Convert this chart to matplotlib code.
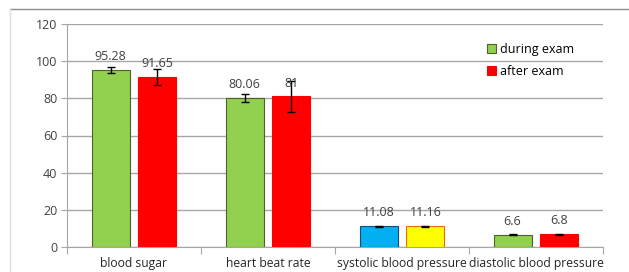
import matplotlib
matplotlib.use("Agg")
import matplotlib.pyplot as plt
from matplotlib.lines import Line2D
from matplotlib.patches import Patch
import numpy as np

plt.rcParams['font.family'] = ['Open Sans', 'DejaVu Sans']

categories = ["blood sugar", "heart beat rate", "systolic blood pressure", "diastolic blood pressure"]
during = [95.28, 80.06, 11.08, 6.6]
after = [91.65, 81, 11.16, 6.8]
during_err = [1.8, 2.1, 0.3, 0.3]
after_err = [4.4, 8.3, 0.3, 0.3]
during_labels = ["95.28", "80.06", "11.08", "6.6"]
after_labels = ["91.65", "81", "11.16", "6.8"]
yticks = [0, 20, 40, 60, 80, 100, 120]

during_colors = ["#92D050", "#92D050", "#00B0F0", "#92D050"]
after_colors = ["#FF0000", "#FF0000", "#FFFF00", "#FF0000"]
during_edges = ["#4F6228", "#4F6228", "#1F497D", "#4F6228"]
after_edges = ["#FF0000", "#FF0000", "#E46C0A", "#FF0000"]

fig = plt.figure(figsize=(6.29, 2.72), dpi=100)
ax = fig.add_axes([67/629, 1-247/272, (603-67)/629, (247-24)/272])

x = np.arange(len(categories)) + 0.5
w = 0.284
off = 0.175
ax.bar(x - off, during, w, color=during_colors, edgecolor=during_edges, linewidth=0.8, zorder=3)
ax.bar(x + off, after, w, color=after_colors, edgecolor=after_edges, linewidth=0.8, zorder=3)
ax.errorbar(x - off, during, yerr=during_err, fmt='none', ecolor='black', elinewidth=1, capsize=3, capthick=1, zorder=4)
ax.errorbar(x + off, after, yerr=after_err, fmt='none', ecolor='black', elinewidth=1, capsize=3, capthick=1, zorder=4)

for xi, v, t in zip(x - off, during, during_labels):
    ax.annotate(t, (xi, v), xytext=(0, 5), textcoords='offset points', ha='center', va='bottom', fontsize=9, color='#404040', zorder=5)
for xi, v, t in zip(x + off, after, after_labels):
    ax.annotate(t, (xi, v), xytext=(0, 5), textcoords='offset points', ha='center', va='bottom', fontsize=9, color='#404040', zorder=5)

ax.set_xlim(0, len(categories))
ax.set_ylim(0, 120)
ax.set_yticks(yticks)
ax.set_yticklabels([str(t) for t in yticks], fontsize=9, color='#404040')
ax.yaxis.grid(True, color='#A6A6A6', linewidth=1, zorder=0)
ax.set_axisbelow(True)

ax.set_xticks(np.arange(len(categories) + 1))
ax.set_xticklabels([])
ax.set_xticks(x, minor=True)
ax.set_xticklabels(categories, minor=True, fontsize=8.7, color='#262626')
ax.tick_params(axis='x', which='minor', length=0, pad=7)
ax.tick_params(axis='x', which='major', length=5, color='#A6A6A6')
ax.tick_params(axis='y', length=4, color='#A6A6A6', pad=3)

for s in ['top', 'right']:
    ax.spines[s].set_visible(False)
ax.spines['left'].set_color('#A6A6A6')
ax.spines['bottom'].set_color('#A6A6A6')

handles = [Patch(facecolor="#92D050", edgecolor="#4F6228", linewidth=0.8),
           Patch(facecolor="#FF0000", edgecolor="#FF0000", linewidth=0.8)]
ax.legend(handles, ["during exam", "after exam"], loc='upper left', bbox_to_anchor=((482-67)/536, 1-(38-24)/223),
          frameon=False, fontsize=9, handlelength=0.7, handleheight=0.7, handletextpad=0.3,
          labelspacing=0.7, borderaxespad=0)

fig.add_artist(Line2D([10/629, 1], [1-9/272, 1-9/272], color='#8C8C8C', linewidth=1))
fig.add_artist(Line2D([10/629, 10/629], [0, 1-9/272], color='#E0E0E0', linewidth=1))

fig.savefig("out.png", dpi=100)
